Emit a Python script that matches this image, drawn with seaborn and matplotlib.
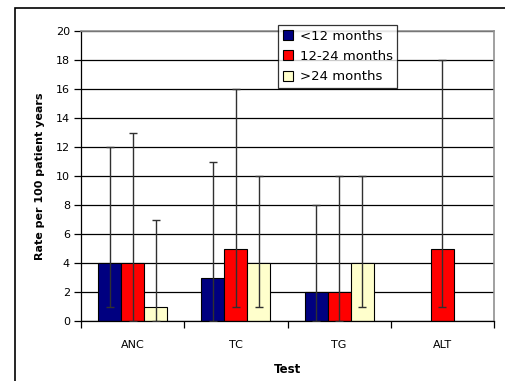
import numpy as np
import pandas as pd
import matplotlib
matplotlib.use("Agg")
import matplotlib.pyplot as plt
import seaborn as sns
from matplotlib.patches import Rectangle, Patch

# data
tests = ['ANC', 'TC', 'TG', 'ALT']
groups = ['<12 months', '12-24 months', '>24 months']
rate_lt12 = [4, 3, 2, np.nan]
rate_12_24 = [4, 5, 2, 5]
rate_gt24 = [1, 4, 4, np.nan]
low_lt12 = [1, 0, 0, np.nan]
low_12_24 = [0, 1, 0, 1]
low_gt24 = [0, 1, 1, np.nan]
high_lt12 = [12, 11, 8, np.nan]
high_12_24 = [13, 16, 10, 18]
high_gt24 = [7, 10, 10, np.nan]
colors = ['#000080', '#FF0000', '#FFFFCC']

rows = []
for g, rates, lows, highs in zip(groups,
                                 [rate_lt12, rate_12_24, rate_gt24],
                                 [low_lt12, low_12_24, low_gt24],
                                 [high_lt12, high_12_24, high_gt24]):
    for t, r, lo, hi in zip(tests, rates, lows, highs):
        rows.append({'Test': t, 'Group': g, 'Rate': r, 'Low': lo, 'High': hi})
df = pd.DataFrame(rows)

sns.set_style('white', {'text.color': 'black', 'axes.labelcolor': 'black',
                        'xtick.color': 'black', 'ytick.color': 'black'})
plt.rcParams['font.family'] = ['DejaVu Sans']

fig = plt.figure(figsize=(5.05, 3.81), dpi=100)
ax = fig.add_axes([81 / 505, 1 - 321 / 381, 413 / 505, 290 / 381])

sns.barplot(data=df.dropna(subset=['Rate']), x='Test', y='Rate', hue='Group',
            order=tests, hue_order=groups, palette=colors, width=0.67, gap=0,
            edgecolor='black', linewidth=0.8, saturation=1, errorbar=None,
            legend=False, ax=ax, zorder=2)

# error bars at the bar centres
for container, g in zip(ax.containers, groups):
    sub = df[df['Group'] == g].set_index('Test')
    for bar in container:
        xc = bar.get_x() + bar.get_width() / 2
        t = tests[int(round(xc))]
        r, lo, hi = sub.loc[t, ['Rate', 'Low', 'High']]
        ax.errorbar(xc, r, yerr=[[r - lo], [hi - r]], fmt='none',
                    ecolor='#303030', elinewidth=1, capsize=3.2,
                    capthick=1, zorder=3)

ax.set_ylim(0, 20)
ax.set_xlim(-0.5, len(tests) - 0.5)
ax.set_yticks(np.arange(0, 21, 2))
ax.yaxis.grid(True, color='black', linewidth=0.9)
ax.set_axisbelow(True)
ax.set_xticks(np.arange(-0.5, len(tests)), minor=True)
ax.tick_params(axis='x', which='major', length=0, labelsize=8, pad=14,
               labelcolor='black')
ax.tick_params(axis='x', which='minor', length=5, width=0.9, color='black',
               direction='out', bottom=True)
ax.tick_params(axis='y', length=5, width=0.9, color='black', direction='out',
               left=True, labelsize=8, pad=3, labelcolor='black')
for side in ['left', 'bottom']:
    ax.spines[side].set_color('black')
    ax.spines[side].set_linewidth(0.9)
for side in ['top', 'right']:
    ax.spines[side].set_color('#909090')
    ax.spines[side].set_linewidth(1.2)

ax.set_xlabel('Test', fontsize=8.5, fontweight='bold', labelpad=9,
              color='black')
ax.set_ylabel('Rate per 100 patient years', fontsize=8, fontweight='bold',
              labelpad=8, color='black')

handles = [Patch(facecolor=c, edgecolor='black', linewidth=0.8) for c in colors]
leg = fig.legend(handles, groups, loc='upper left',
                 bbox_to_anchor=(278 / 505, 1 - 25 / 381), fontsize=9.5,
                 frameon=True, fancybox=False, edgecolor='black',
                 handlelength=0.8, handleheight=0.8, handletextpad=0.5,
                 labelspacing=0.55, borderpad=0.35, borderaxespad=0)
leg.get_frame().set_linewidth(0.9)
for txt in leg.get_texts():
    txt.set_color('black')

# outer chart frame
fig.patches.append(Rectangle((15 / 505, -0.1), 1.0, 1.1 - 8 / 381,
                             transform=fig.transFigure, fill=False,
                             edgecolor='black', linewidth=1.2))

fig.savefig('out.png', dpi=100)
